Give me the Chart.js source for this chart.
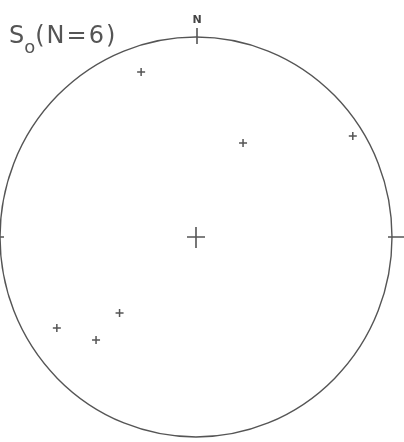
<!DOCTYPE html>
<html>
<head>
<meta charset="utf-8">
<script src="https://cdn.jsdelivr.net/npm/chart.js@4/dist/chart.umd.min.js"></script>
<style>
  html, body { margin: 0; padding: 0; background: #fff; }
  #wrap { width: 404px; height: 442px; }
</style>
</head>
<body>
<div id="wrap"><canvas id="stereo" width="404" height="442"></canvas></div>
<script>
// Pôles S0 projetés (coordonnées dans le cercle unité)
const poleX = [-0.28, 0.24, 0.80, -0.71, -0.51, -0.39];
const poleY = [0.825, 0.47, 0.505, -0.455, -0.515, -0.38];
const titleMain = "S";
const titleSub = "o";
const titleRest = "(N=6)";
const northLabel = "N";

const ink = "#555";

// cercle primitif, repères et titre
const netPlugin = {
  id: "net",
  beforeDatasetsDraw(chart) {
    const ctx = chart.ctx;
    const sx = chart.scales.x;
    const sy = chart.scales.y;
    const cx = sx.getPixelForValue(0);
    const cy = sy.getPixelForValue(0);
    const rx = sx.getPixelForValue(1) - cx;
    const ry = cy - sy.getPixelForValue(1);

    ctx.save();
    ctx.strokeStyle = ink;
    ctx.lineWidth = 1.4;
    ctx.beginPath();
    ctx.ellipse(cx, cy, rx, ry, 0, 0, Math.PI * 2);
    ctx.stroke();

    // ticks N, E, W
    ctx.lineWidth = 1.6;
    ctx.beginPath();
    ctx.moveTo(cx + 1, cy - ry - 9);
    ctx.lineTo(cx + 1, cy - ry + 7);
    ctx.moveTo(cx + rx - 4, cy);
    ctx.lineTo(cx + rx + 12, cy);
    ctx.moveTo(cx - rx - 4, cy);
    ctx.lineTo(cx - rx + 4, cy);
    // croix centrale
    ctx.moveTo(cx - 9, cy);
    ctx.lineTo(cx + 9, cy);
    ctx.moveTo(cx, cy - 10);
    ctx.lineTo(cx, cy + 11);
    ctx.stroke();

    ctx.fillStyle = "#444";
    ctx.textBaseline = "alphabetic";
    ctx.font = "bold 11px 'DejaVu Sans'";
    ctx.textAlign = "center";
    ctx.fillText(northLabel, cx + 1, 23);

    ctx.textAlign = "left";
    ctx.fillStyle = "#555";
    ctx.font = "24px 'DejaVu Sans'";
    ctx.fillText(titleMain, 9, 43);
    const w1 = ctx.measureText(titleMain).width;
    ctx.font = "18px 'DejaVu Sans'";
    ctx.fillText(titleSub, 9 + w1, 53);
    const w2 = ctx.measureText(titleSub).width;
    ctx.font = "24px 'DejaVu Sans'";
    ctx.letterSpacing = "2px";
    ctx.fillText(titleRest, 9 + w1 + w2, 43);
    ctx.restore();
  },
};

const points = poleX.map((x, i) => ({ x: x, y: poleY[i] }));

new Chart(document.getElementById("stereo"), {
  type: "scatter",
  data: {
    datasets: [
      {
        data: points,
        pointStyle: "cross",
        pointRadius: 4,
        pointBorderWidth: 1.5,
        borderColor: ink,
        backgroundColor: ink,
      },
    ],
  },
  options: {
    responsive: false,
    animation: false,
    layout: { padding: 0, autoPadding: false },
    plugins: {
      legend: { display: false },
      tooltip: { enabled: false },
    },
    scales: {
      x: { display: false, min: -1, max: 208 / 196 },
      y: { display: false, min: -205 / 200, max: 237 / 200 },
    },
  },
  plugins: [netPlugin],
});
</script>
</body>
</html>
